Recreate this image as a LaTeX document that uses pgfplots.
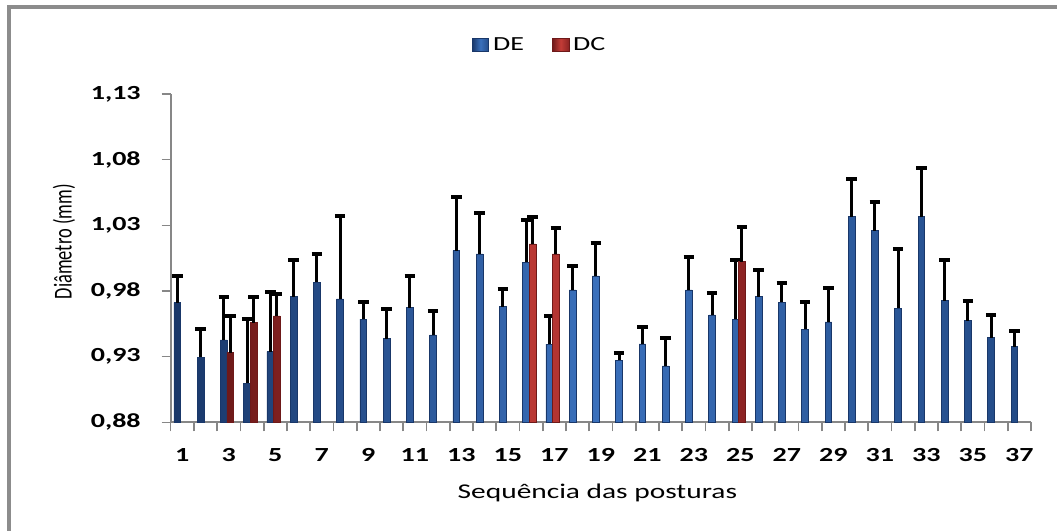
\documentclass[border=0pt]{standalone}
\usepackage{graphicx}
\usepackage{pgfplots}
\pgfplotsset{compat=1.18}
\usepackage{fontspec}
\setmainfont{Carlito}[FakeStretch=1.4]
\newfontfamily\ylabfont{Carlito}
\definecolor{framegray}{RGB}{140,140,140}
\definecolor{axgray}{RGB}{135,135,135}
\definecolor{bdark}{RGB}{25,55,105}
\definecolor{bmid}{RGB}{58,112,188}
\definecolor{bright}{RGB}{35,75,135}
\definecolor{rdark}{RGB}{110,25,25}
\definecolor{rmid}{RGB}{195,60,55}
\definecolor{rright}{RGB}{140,35,35}
\begin{document}
\begin{tikzpicture}
\path[use as bounding box] (0,0) rectangle (528.5pt,265.5pt);
\draw[framegray, line width=1.6pt] (4.5pt,0) -- (4.5pt,262pt) -- (528.5pt,262pt);
\begin{axis}[
  at={(85.35pt,54.35pt)}, anchor=south west,
  scale only axis, width=430.15pt, height=164.15pt,
  xmin=0.5, xmax=37.5, ymin=0.88, ymax=1.13,
  axis x line*=bottom, axis y line*=left,
  axis line style={axgray, line width=0.9pt, -},
  tick style={axgray, line width=0.8pt},
  tick align=outside, major tick length=4.5pt,
  xtick={0.5,1.5,...,37.5},
  x tick label as interval,
  xticklabels={1,,3,,5,,7,,9,,11,,13,,15,,17,,19,,21,,23,,25,,27,,29,,31,,33,,35,,37},
  ytick={0.88,0.93,0.98,1.03,1.08,1.13},
  yticklabels={{0,88},{0,93},{0,98},{1,03},{1,08},{1,13}},
  ticklabel style={font=\fontsize{10}{12}\selectfont\bfseries},
  xticklabel style={yshift=-5pt},
  yticklabel style={xshift=-7pt},
  ybar, bar width=3.35pt,
  xlabel={Sequência das posturas},
  xlabel style={font=\fontsize{10.5}{12}\selectfont, at={(axis description cs:0.496,-0.215)}, anchor=center},
  ylabel={\scalebox{1}[1.4]{\ylabfont\fontsize{9.2}{11}\selectfont Diâmetro (mm)}},
  ylabel style={at={(axis description cs:-0.124,0.55)}, anchor=center},
  legend style={draw=none, at={(0.43,1.149)}, anchor=center,
    font=\fontsize{10}{12}\selectfont, legend columns=2,
    /tikz/every even column/.append style={column sep=12pt}},
  legend image code/.code={\path[#1] (0pt,-3.3pt) rectangle (8.3pt,3.3pt);},
  error bars/y dir=plus, error bars/y explicit,
  error bars/error bar style={black, line width=1.5pt},
  error bars/error mark options={black, line width=2pt, mark size=2.6pt, rotate=90},
]
\addplot[bar shift=-2.5pt, draw=bdark, line width=0.3pt, left color=bdark, right color=bright, middle color=bmid]
 coordinates {
 (1,0.9712) +- (0,0.0203)
 (2,0.9295) +- (0,0.0218)
 (3,0.9427) +- (0,0.0326)
 (4,0.9097) +- (0,0.0488)
 (5,0.9338) +- (0,0.0455)
 (6,0.9757) +- (0,0.0280)
 (7,0.9867) +- (0,0.0216)
 (8,0.9740) +- (0,0.0632)
 (9,0.9585) +- (0,0.0134)
 (10,0.9437) +- (0,0.0224)
 (11,0.9673) +- (0,0.0242)
 (12,0.9465) +- (0,0.0186)
 (13,1.0108) +- (0,0.0407)
 (14,1.0083) +- (0,0.0310)
 (15,0.9681) +- (0,0.0133)
 (16,1.0017) +- (0,0.0325)
 (17,0.9395) +- (0,0.0215)
 (18,0.9808) +- (0,0.0183)
 (19,0.9915) +- (0,0.0249)
 (20,0.9273) +- (0,0.0053)
 (21,0.9397) +- (0,0.0127)
 (22,0.9229) +- (0,0.0211)
 (23,0.9808) +- (0,0.0250)
 (24,0.9618) +- (0,0.0165)
 (25,0.9585) +- (0,0.0452)
 (26,0.9757) +- (0,0.0199)
 (27,0.9715) +- (0,0.0149)
 (28,0.9509) +- (0,0.0210)
 (29,0.9564) +- (0,0.0262)
 (30,1.0367) +- (0,0.0287)
 (31,1.0260) +- (0,0.0219)
 (32,0.9669) +- (0,0.0450)
 (33,1.0367) +- (0,0.0373)
 (34,0.9727) +- (0,0.0310)
 (35,0.9574) +- (0,0.0153)
 (36,0.9445) +- (0,0.0173)
 (37,0.9376) +- (0,0.0120)
 };
\addlegendentry{DE}
\addplot[bar shift=0.75pt, draw=rdark, line width=0.3pt, left color=rdark, right color=rright, middle color=rmid]
 coordinates {
 (3,0.9330) +- (0,0.0282)
 (4,0.9559) +- (0,0.0194)
 (5,0.9610) +- (0,0.0166)
 (16,1.0159) +- (0,0.0203)
 (17,1.0083) +- (0,0.0198)
 (25,1.0024) +- (0,0.0267)
 };
\addlegendentry{DC}
\end{axis}
\end{tikzpicture}
\end{document}
